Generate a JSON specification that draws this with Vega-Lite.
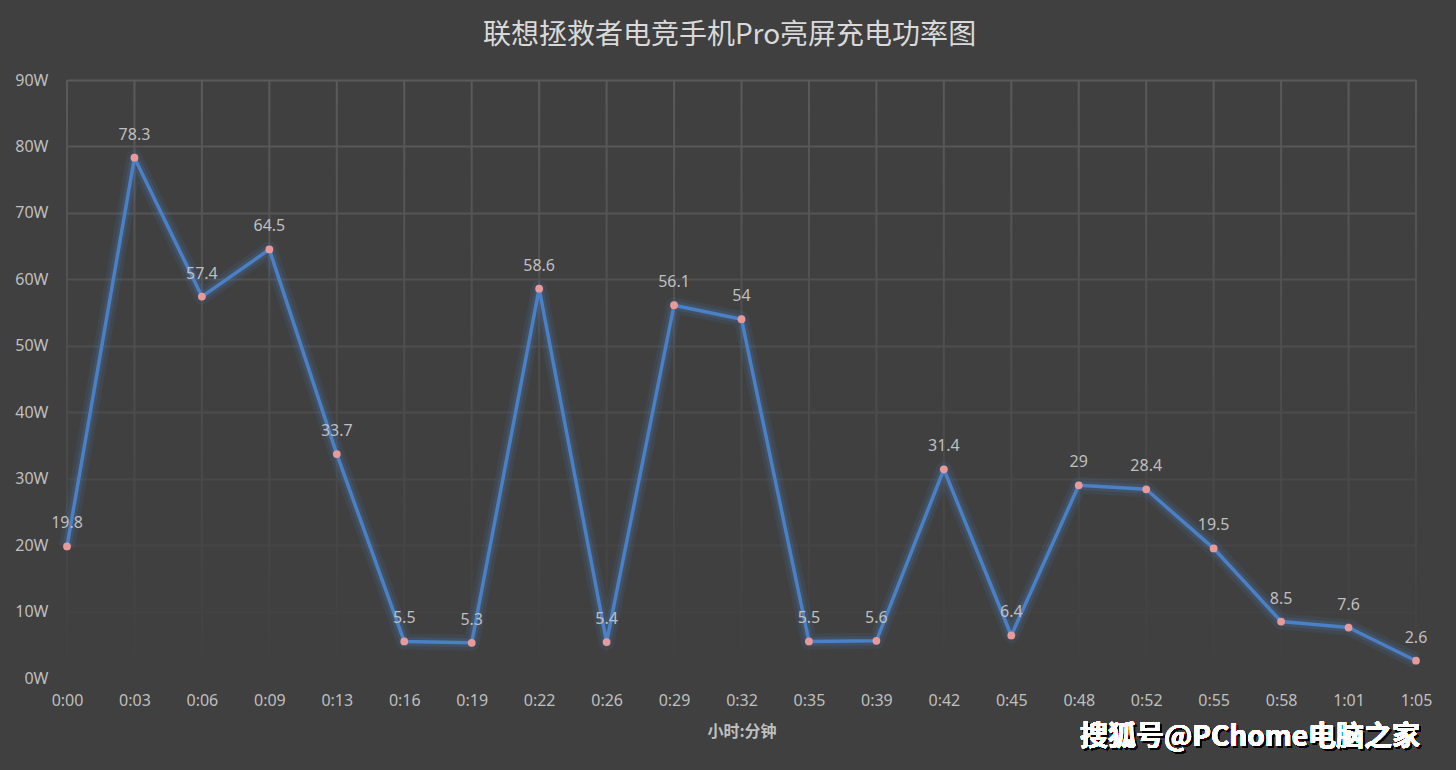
{
  "$schema": "https://vega.github.io/schema/vega-lite/v6.json",
  "autosize": "none",
  "width": 1349,
  "height": 598,
  "padding": {"left": 67, "top": 80, "right": 40, "bottom": 92},
  "background": "#404040",
  "config": {"view": {"stroke": null}, "font": "Noto Sans"},
  "title": {
    "text": "联想拯救者电竞手机Pro亮屏充电功率图",
    "font": "Noto Sans CJK SC",
    "fontSize": 28,
    "fontWeight": "normal",
    "color": "#d9d9d9",
    "anchor": "middle",
    "frame": "group",
    "dx": -12,
    "offset": 22
  },
  "data": {
    "values": [
      {"t": "0:00", "w": 19.8},
      {"t": "0:03", "w": 78.3},
      {"t": "0:06", "w": 57.4},
      {"t": "0:09", "w": 64.5},
      {"t": "0:13", "w": 33.7},
      {"t": "0:16", "w": 5.5},
      {"t": "0:19", "w": 5.3},
      {"t": "0:22", "w": 58.6},
      {"t": "0:26", "w": 5.4},
      {"t": "0:29", "w": 56.1},
      {"t": "0:32", "w": 54},
      {"t": "0:35", "w": 5.5},
      {"t": "0:39", "w": 5.6},
      {"t": "0:42", "w": 31.4},
      {"t": "0:45", "w": 6.4},
      {"t": "0:48", "w": 29},
      {"t": "0:52", "w": 28.4},
      {"t": "0:55", "w": 19.5},
      {"t": "0:58", "w": 8.5},
      {"t": "1:01", "w": 7.6},
      {"t": "1:05", "w": 2.6}
    ]
  },
  "encoding": {
    "x": {
      "field": "t",
      "type": "ordinal",
      "sort": null,
      "scale": {"type": "point", "padding": 0},
      "axis": {
        "title": "小时:分钟",
        "titleFont": "Noto Sans CJK SC",
        "titleFontSize": 16,
        "titleFontWeight": "bold",
        "titleColor": "#bfbfbf",
        "titlePadding": 15,
        "labelAngle": 0,
        "labelFontSize": 16,
        "labelColor": "#bfbfbf",
        "labelPadding": 14,
        "domain": false,
        "ticks": false,
        "grid": false
      }
    }
  },
  "layer": [
    {
      "mark": {
        "type": "bar",
        "size": 2,
        "fill": {
          "gradient": "linear",
          "x1": 0, "y1": 0, "x2": 0, "y2": 1,
          "stops": [
            {"offset": 0, "color": "#5a5a5a"},
            {"offset": 1, "color": "#404040"}
          ]
        }
      },
      "encoding": {
        "y": {
          "datum": 90,
          "type": "quantitative",
          "scale": {"domain": [0, 90], "nice": false},
          "axis": {
            "title": null,
            "values": [0, 10, 20, 30, 40, 50, 60, 70, 80, 90],
            "labelExpr": "datum.value + 'W'",
            "labelFontSize": 16,
            "labelColor": "#bfbfbf",
            "labelPadding": 19,
            "domain": false,
            "ticks": false,
            "grid": true,
            "gridColor": "#5a5a5a",
            "gridWidth": 2,
            "gridOpacity": {"expr": "datum.value / 90"}
          }
        },
        "y2": {"datum": 0}
      }
    },
    {
      "mark": {"type": "line", "color": "#4a7ebb", "strokeWidth": 16, "opacity": 0.12, "strokeJoin": "round"},
      "encoding": {"y": {"field": "w", "type": "quantitative"}}
    },
    {
      "mark": {"type": "line", "color": "#4a7ebb", "strokeWidth": 9, "opacity": 0.2, "strokeJoin": "round"},
      "encoding": {"y": {"field": "w", "type": "quantitative"}}
    },
    {
      "mark": {"type": "line", "color": "#4a80c6", "strokeWidth": 3.5, "strokeJoin": "round"},
      "encoding": {"y": {"field": "w", "type": "quantitative"}}
    },
    {
      "mark": {"type": "point", "filled": true, "color": "#e89a9a", "opacity": 1, "size": 60},
      "encoding": {"y": {"field": "w", "type": "quantitative"}}
    },
    {
      "mark": {"type": "text", "dy": -23, "fontSize": 16, "color": "#bfbfbf", "font": "Noto Sans"},
      "encoding": {
        "y": {"field": "w", "type": "quantitative"},
        "text": {"field": "w", "type": "quantitative"}
      }
    },
    {
      "mark": {"type": "text", "align": "right", "baseline": "middle", "dx": 6, "dy": 2, "fontSize": 28, "fontWeight": "bold", "font": "Noto Sans CJK SC", "color": "#000000", "clip": false},
      "encoding": {
        "x": {"datum": "1:05"},
        "y": {"datum": -9, "type": "quantitative"},
        "text": {"value": "搜狐号@PChome电脑之家"}
      }
    },
    {
      "mark": {"type": "text", "align": "right", "baseline": "middle", "dx": 4, "fontSize": 28, "fontWeight": "bold", "font": "Noto Sans CJK SC", "color": "#ffffff", "clip": false},
      "encoding": {
        "x": {"datum": "1:05"},
        "y": {"datum": -9, "type": "quantitative"},
        "text": {"value": "搜狐号@PChome电脑之家"}
      }
    }
  ]
}
